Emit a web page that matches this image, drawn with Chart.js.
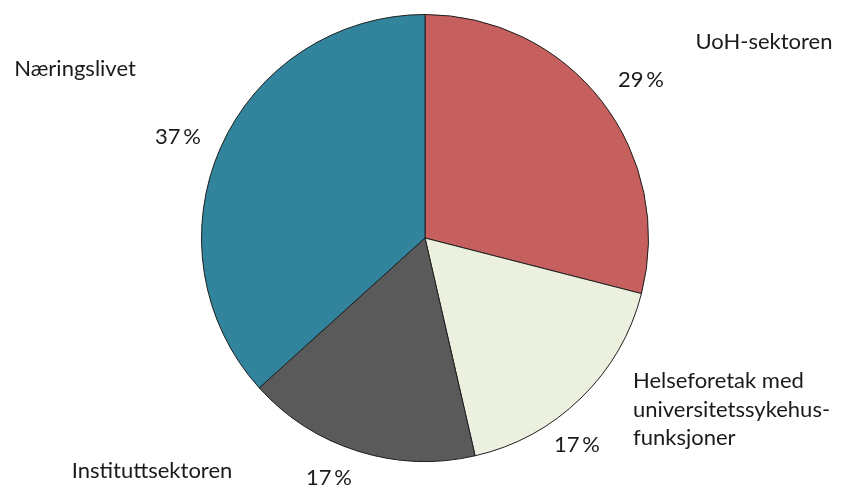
<!DOCTYPE html>
<html>
<head>
<meta charset="utf-8">
<script src="https://cdn.jsdelivr.net/npm/chart.js@4"></script>
<style>
  html, body { margin: 0; padding: 0; background: #fff; }
  #wrap { width: 841px; height: 487px; }
</style>
</head>
<body>
<div id="wrap"><canvas id="myChart"></canvas></div>
<script>
var sektorer = ['UoH-sektoren', 'Helseforetak med universitetssykehusfunksjoner', 'Instituttsektoren', 'Næringslivet'];
var andel = [29, 17.4, 16.9, 36.7];
var farger = ['#C6605E', '#EBF0DF', '#5A5A5A', '#31849C'];

// text placement for names and percentages
var navn = [
	{ lines: ['UoH-sektoren'], x: 764, y: 42, align: 'center' },
	{ lines: ['Helseforetak med', 'universitetssykehus-', 'funksjoner'], x: 633, y: 381, align: 'left' },
	{ lines: ['Instituttsektoren'], x: 152, y: 471, align: 'center' },
	{ lines: ['Næringslivet'], x: 75, y: 69, align: 'center' }
];
var prosentPos = [[641, 80], [577, 445], [329, 478], [178, 137]];

var labelPlugin = {
	id: 'labels',
	afterDraw: function (chart) {
		var c = chart.ctx;
		c.save();
		c.fillStyle = '#1a1a1a';
		c.font = '22px Lato, "Open Sans", sans-serif';
		c.textBaseline = 'middle';
		andel.forEach(function (v, i) {
			c.textAlign = 'center';
			c.fillText(Math.round(v) + '\u2009%', prosentPos[i][0], prosentPos[i][1]);
			var n = navn[i];
			c.textAlign = n.align;
			n.lines.forEach(function (t, k) {
				c.fillText(t, n.x, n.y + k * 28.5);
			});
		});
		c.restore();
	}
};

var ctx = document.getElementById('myChart');
var myChart = new Chart(ctx, {
	type : 'pie',
	data : {
		labels : sektorer,
		datasets : [ {
			data : andel,
			backgroundColor : farger,
			borderColor : '#1e1e1e',
			borderWidth : 1
		} ]
	},
	options : {
		responsive : true,
		maintainAspectRatio : false,
		animation : false,
		layout : { padding : { top : 14, bottom : 25, left : 9, right : 0 } },
		plugins : {
			legend : { display : false },
			tooltip : { enabled : false }
		}
	},
	plugins : [ labelPlugin ]
});
</script>
</body>
</html>
